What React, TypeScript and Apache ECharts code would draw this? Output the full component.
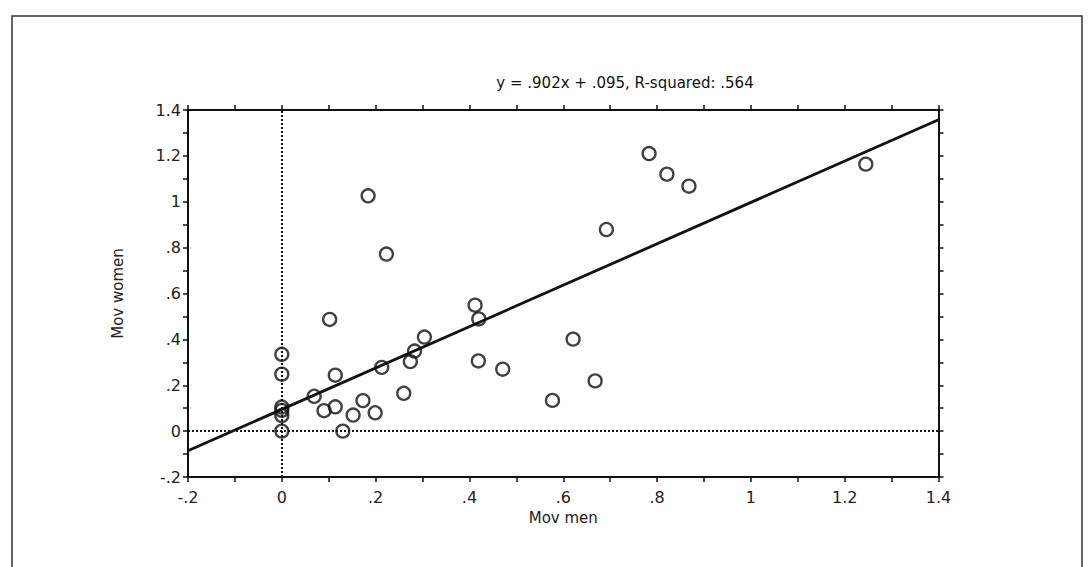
import React, { useEffect, useRef } from "react";
import * as echarts from "echarts";

const movMen: number[] = [
  0, 0, 0, 0, 0, 0,
  0.069, 0.09, 0.102, 0.114, 0.114, 0.13, 0.152, 0.173, 0.184, 0.199,
  0.213, 0.223, 0.26, 0.274, 0.283, 0.304, 0.412, 0.42, 0.419, 0.471,
  0.577, 0.621, 0.668, 0.692, 0.783, 0.821, 0.868, 1.245,
];
const movWomen: number[] = [
  0.335, 0.248, 0.105, 0.09, 0.068, 0,
  0.152, 0.089, 0.487, 0.244, 0.106, 0.0, 0.07, 0.133, 1.026, 0.08,
  0.278, 0.772, 0.165, 0.303, 0.349, 0.41, 0.549, 0.489, 0.306, 0.27,
  0.134, 0.401, 0.219, 0.879, 1.21, 1.12, 1.068, 1.164,
];
const slope = 0.902;
const intercept = 0.095;
const lineX: number[] = [-0.2, 1.4];
const titleText = "y = .902x + .095, R-squared: .564";
const xName = "Mov men";
const yName = "Mov women";

const FONT = "DejaVu Sans";

const fmt = (v: number) => {
  const r = Math.round(v * 10);
  if (r % 2 !== 0) return "";
  const s = (r / 10).toString();
  return s.replace(/^0\./, ".").replace(/^-0\./, "-.");
};

export default function App() {
  const ref = useRef<HTMLDivElement>(null);
  useEffect(() => {
    if (!ref.current) return;
    const chart = echarts.init(ref.current, null, { renderer: "svg" });
    const axisLine = { show: true, onZero: false, lineStyle: { color: "#111", width: 2 } };
    const tick = { show: true, inside: false, length: 5, lineStyle: { color: "#111", width: 1.5 } };
    const label = { fontFamily: FONT, fontSize: 16, color: "#222", formatter: fmt };
    chart.setOption({
      animation: false,
      backgroundColor: "#fff",
      title: {
        text: titleText,
        left: 620,
        top: 70,
        textAlign: "center",
        textStyle: { fontFamily: FONT, fontSize: 15, fontWeight: "normal", color: "#111" },
      },
      grid: { left: 188, right: 149.5, top: 110, bottom: 90 },
      xAxis: [
        {
          type: "value", position: "bottom", min: -0.2, max: 1.4, interval: 0.1,
          axisLine, axisTick: tick, splitLine: { show: false },
          axisLabel: { ...label, margin: 12 },
          name: xName, nameLocation: "middle", nameGap: 33,
          nameTextStyle: { fontFamily: FONT, fontSize: 15, color: "#222" },
        },
        {
          type: "value", position: "top", min: -0.2, max: 1.4, interval: 0.1,
          axisLine, axisTick: tick, splitLine: { show: false }, axisLabel: { show: false },
        },
      ],
      yAxis: [
        {
          type: "value", position: "left", min: -0.2, max: 1.4, interval: 0.1,
          axisLine, axisTick: tick, splitLine: { show: false },
          axisLabel: { ...label, margin: 7 },
          name: yName, nameLocation: "middle", nameGap: 63, nameRotate: 90,
          nameTextStyle: { fontFamily: FONT, fontSize: 15, color: "#222" },
        },
        {
          type: "value", position: "right", min: -0.2, max: 1.4, interval: 0.1,
          axisLine, axisTick: tick, splitLine: { show: false }, axisLabel: { show: false },
        },
      ],
      graphic: [
        {
          type: "rect",
          shape: { x: 12, y: 16, width: 1070, height: 600 },
          style: { fill: "none", stroke: "#333", lineWidth: 1.5 },
          silent: true,
        },
      ],
      series: [
        {
          type: "line",
          data: lineX.map((x) => [x, slope * x + intercept]),
          showSymbol: false,
          symbol: "none",
          lineStyle: { color: "#111", width: 2.8 },
          markLine: {
            silent: true,
            symbol: "none",
            label: { show: false },
            lineStyle: { color: "#111", type: [2, 2], width: 2 },
            data: [{ xAxis: 0 }, { yAxis: 0 }],
          },
          z: 2,
        },
        {
          type: "scatter",
          data: movMen.map((x, i) => [x, movWomen[i]]),
          symbol: "circle",
          symbolSize: 13,
          itemStyle: { color: "rgba(0,0,0,0)", borderColor: "#111", borderWidth: 2.3 },
          z: 3,
        },
      ],
    });
    return () => chart.dispose();
  }, []);
  return (
    <div
      ref={ref}
      style={{ position: "fixed", left: 0, top: 0, width: 1088, height: 567, background: "#fff" }}
    />
  );
}
